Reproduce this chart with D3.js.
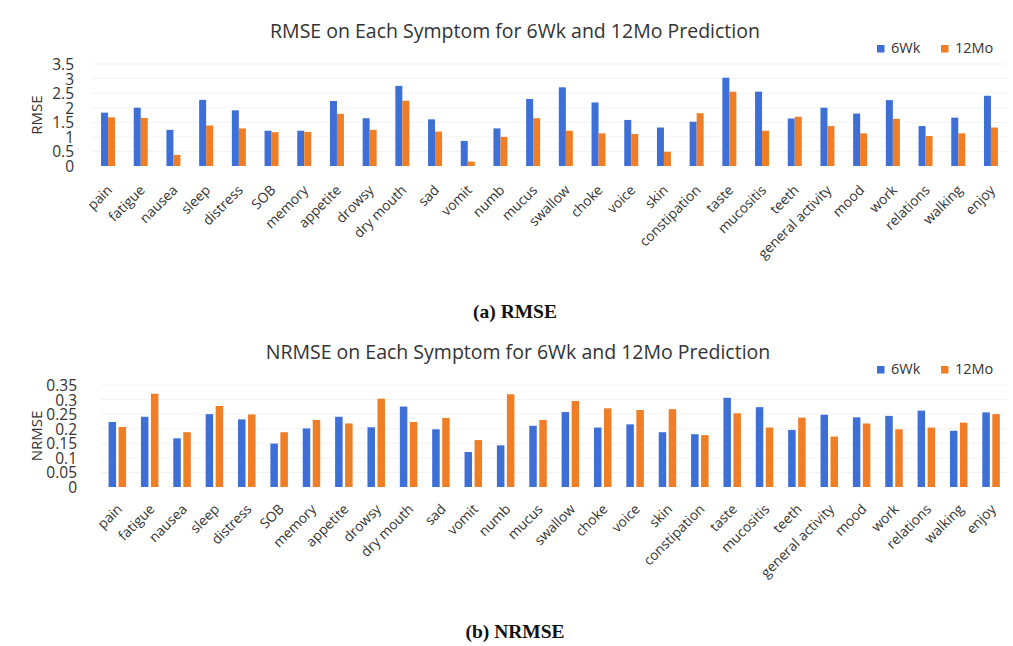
<!DOCTYPE html>
<html><head><meta charset="utf-8">
<script src="https://cdn.jsdelivr.net/npm/d3@7"></script>
<style>body{margin:0;background:#fff}svg{display:block}</style>
</head><body>
<svg id="c" width="1013" height="646"></svg>
<script>
const categories = ["pain","fatigue","nausea","sleep","distress","SOB","memory","appetite","drowsy","dry mouth","sad","vomit","numb","mucus","swallow","choke","voice","skin","constipation","taste","mucositis","teeth","general activity","mood","work","relations","walking","enjoy"];
const seriesNames = ["6Wk","12Mo"];
const rmse6Wk  = [1.83,2.0,1.24,2.27,1.91,1.21,1.21,2.23,1.64,2.75,1.6,0.86,1.29,2.3,2.7,2.18,1.58,1.32,1.52,3.03,2.55,1.63,2.0,1.8,2.26,1.37,1.66,2.41];
const rmse12Mo = [1.67,1.65,0.38,1.39,1.29,1.16,1.17,1.79,1.24,2.24,1.18,0.15,1.0,1.64,1.21,1.12,1.1,0.49,1.81,2.55,1.21,1.69,1.37,1.12,1.62,1.03,1.12,1.32];
const nrmse6Wk  = [0.223,0.241,0.167,0.25,0.232,0.149,0.201,0.241,0.205,0.276,0.198,0.12,0.143,0.21,0.257,0.204,0.215,0.188,0.181,0.306,0.274,0.196,0.248,0.239,0.244,0.262,0.193,0.256];
const nrmse12Mo = [0.206,0.32,0.188,0.278,0.249,0.188,0.23,0.218,0.303,0.223,0.237,0.161,0.318,0.23,0.295,0.27,0.264,0.267,0.178,0.253,0.204,0.238,0.173,0.218,0.198,0.204,0.221,0.25];
const rmseTicks  = [0,0.5,1,1.5,2,2.5,3,3.5];
const nrmseTicks = [0,0.05,0.1,0.15,0.2,0.25,0.3,0.35];
const colors = ["#3d6fd6","#f07e26"];

const svg = d3.select("#c");
const font = "'Open Sans', sans-serif";

function drawChart(o){
  const g = svg.append("g");
  const x = d3.scaleBand().domain(categories).range([o.x0, o.x1]).paddingInner(0).paddingOuter(0);
  const xs = d3.scaleBand().domain(seriesNames).range([0, o.barW*2]);
  const y = d3.scaleLinear().domain([0, o.ticks[o.ticks.length-1]]).range([o.base, o.top]);

  // title
  g.append("text").attr("x", o.titleX).attr("y", o.titleY).attr("text-anchor","middle")
    .attr("font-family", font).attr("font-size", 19.5).attr("fill","#333").text(o.title);

  // faint gridlines
  g.append("g").selectAll("line").data(o.ticks.slice(1)).join("line")
    .attr("x1", o.x0).attr("x2", o.x1).attr("y1", d=>y(d)).attr("y2", d=>y(d))
    .attr("stroke","#f3f3f3").attr("stroke-width",1);

  // y axis
  const ya = g.append("g").attr("transform", `translate(${o.yAxisX},0)`)
    .call(d3.axisLeft(y).tickValues(o.ticks).tickSize(0).tickPadding(0).tickFormat(d=>String(d)));
  ya.select(".domain").remove();
  ya.selectAll("text").attr("font-family", font).attr("font-size", 15.5).attr("fill","#333").attr("dy","0.35em");

  // y label
  g.append("text").attr("transform", `translate(${o.yLabelX},${(o.base+o.top)/2}) rotate(-90)`)
    .attr("text-anchor","middle").attr("font-family", font).attr("font-size", 15).attr("fill","#333").text(o.yLabel);

  // bars
  const data = categories.map((c,i)=>({c, v:[o.s1[i], o.s2[i]]}));
  const grp = g.append("g").selectAll("g").data(data).join("g")
    .attr("transform", d=>`translate(${x(d.c)+x.bandwidth()/2-o.barW},0)`);
  grp.selectAll("rect").data(d=>d.v.map((v,k)=>({k:seriesNames[k], v, idx:k}))).join("rect")
    .attr("x", d=>xs(d.k)+ (d.idx? o.gap:0)).attr("width", o.barW - (o.gap?1:0))
    .attr("y", d=>y(d.v)).attr("height", d=>o.base - y(d.v))
    .attr("fill", d=>colors[d.idx]);

  // x labels
  const xa = g.append("g").attr("transform", `translate(0,${o.base})`)
    .call(d3.axisBottom(x).tickSize(0).tickPadding(0));
  xa.select(".domain").remove();
  xa.selectAll("text").attr("font-family", font).attr("font-size", 13.8).attr("fill","#333")
    .attr("text-anchor","end").attr("dy", null).attr("y", null)
    .attr("transform", `translate(${o.lblDx},${o.lblDy}) rotate(-45)`);

  // legend
  const lg = g.append("g").attr("transform", `translate(877,${o.legY})`);
  seriesNames.forEach((s,k)=>{
    const lx = k===0 ? 0 : 64;
    lg.append("rect").attr("x", lx).attr("y", -7).attr("width", 7.5).attr("height", 7.5).attr("fill", colors[k]);
    lg.append("text").attr("x", lx+14).attr("y", 0).attr("dy","0.05em").attr("font-family", font)
      .attr("font-size", 14.5).attr("fill","#333").text(s);
  });

  // caption
  svg.append("text").attr("x", 515).attr("y", o.capY).attr("text-anchor","middle")
    .attr("font-family","'Liberation Serif', serif").attr("font-weight","bold").attr("font-size", 19.5)
    .attr("fill","#111").text(o.caption);
}

drawChart({title:"RMSE on Each Symptom for 6Wk and 12Mo Prediction", titleX:515, titleY:38, yLabel:"RMSE", s1:rmse6Wk, s2:rmse12Mo,
  ticks:rmseTicks, base:166, top:64, x0:91.7, x1:1007.3, barW:7, gap:0, yAxisX:74, yLabelX:42,
  lblDx:5, lblDy:25, legY:52, capY:318, caption:"(a) RMSE"});
drawChart({title:"NRMSE on Each Symptom for 6Wk and 12Mo Prediction", titleX:518, titleY:359, yLabel:"NRMSE", s1:nrmse6Wk, s2:nrmse12Mo,
  ticks:nrmseTicks, base:487, top:385, x0:100.9, x1:1007, barW:8.5, gap:1.5, yAxisX:77, yLabelX:42,
  lblDx:6, lblDy:23, legY:373, capY:638, caption:"(b) NRMSE"});
</script>
</body></html>
